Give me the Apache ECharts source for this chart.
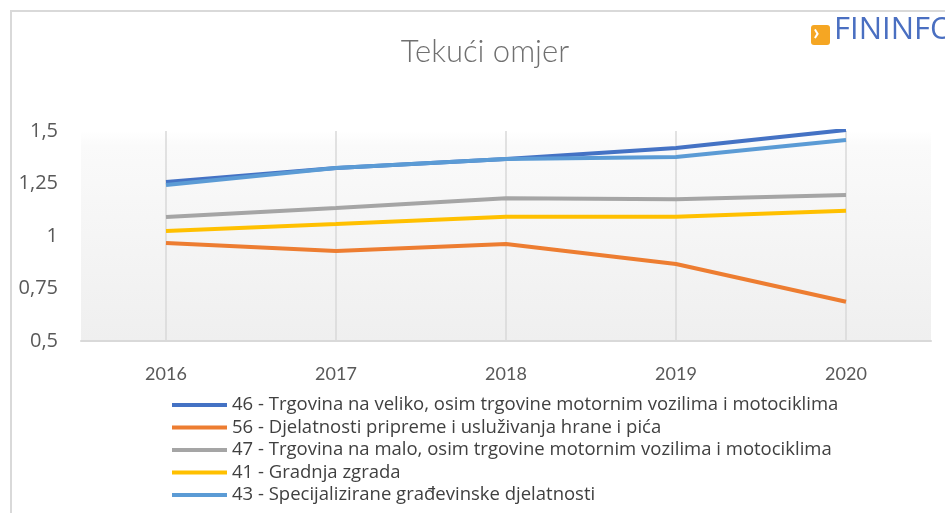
<!DOCTYPE html>
<html>
<head>
<meta charset="utf-8">
<script src="https://cdn.jsdelivr.net/npm/echarts@6/dist/echarts.min.js"></script>
<style>
  html, body { margin: 0; padding: 0; background: #fff; }
  #chart { width: 945px; height: 513px; }
</style>
</head>
<body>
<div id="chart"></div>
<script>
// godine
var years = ['2016', '2017', '2018', '2019', '2020'];
// nazivi djelatnosti (legenda)
var names = [
  '46 - Trgovina na veliko, osim trgovine motornim vozilima i motociklima',
  '56 - Djelatnosti pripreme i usluživanja hrane i pića',
  '47 - Trgovina na malo, osim trgovine motornim vozilima i motociklima',
  '41 - Gradnja zgrada',
  '43 - Specijalizirane građevinske djelatnosti'
];
// tekući omjer po djelatnosti
var d46 = [1.257, 1.324, 1.367, 1.419, 1.505];
var d56 = [0.967, 0.929, 0.962, 0.867, 0.687];
var d47 = [1.090, 1.133, 1.180, 1.175, 1.195];
var d41 = [1.024, 1.057, 1.092, 1.092, 1.120];
var d43 = [1.243, 1.324, 1.367, 1.376, 1.457];
var colors = ['#4472C4', '#ED7D31', '#A5A5A5', '#FFC000', '#5B9BD5'];

var allData = [d46, d56, d47, d41, d43];
var series = [];
allData.forEach(function(vals, i) {
  series.push({
    name: names[i],
    type: 'line',
    data: vals,
    symbol: 'none',
    smooth: false,
    lineStyle: { width: 4, color: colors[i] },
    itemStyle: { color: colors[i] }
  });
});

var chart = echarts.init(document.getElementById('chart'));
chart.setOption({
  animation: false,
  title: {
    text: 'Tekući omjer',
    left: 480,
    textAlign: 'center',
    top: 31,
    textStyle: {
      fontFamily: 'Lato',
      fontWeight: 300,
      fontSize: 31,
      color: '#707070'
    }
  },
  grid: {
    left: 81,
    right: 14,
    top: 131,
    bottom: 172,
    show: true,
    borderWidth: 0,
    backgroundColor: new echarts.graphic.LinearGradient(0, 0, 0, 1, [
      { offset: 0, color: '#ffffff' },
      { offset: 0.07, color: '#fafafa' },
      { offset: 1, color: '#efefef' }
    ])
  },
  xAxis: {
    type: 'category',
    data: years,
    boundaryGap: true,
    axisLine: { lineStyle: { color: '#d9d9d9', width: 2 } },
    axisTick: { show: false },
    splitLine: {
      show: true,
      alignWithLabel: true,
      lineStyle: { color: '#d9d9d9', width: 1.5 }
    },
    axisLabel: {
      fontFamily: 'Lato',
      fontSize: 18,
      color: '#595959',
      margin: 24
    }
  },
  yAxis: {
    type: 'value',
    min: 0.5,
    max: 1.5,
    interval: 0.25,
    axisLine: { show: false },
    axisTick: { show: false },
    splitLine: { show: false },
    axisLabel: {
      fontFamily: 'Open Sans',
      fontSize: 20,
      color: '#595959',
      margin: 23,
      formatter: function(v) { return String(v).replace('.', ','); }
    }
  },
  legend: {
    orient: 'vertical',
    left: 172,
    top: 395,
    padding: 0,
    itemWidth: 55,
    itemHeight: 4,
    itemGap: 2.5,
    icon: 'rect',
    data: names,
    textStyle: {
      fontFamily: 'Open Sans',
      fontSize: 18.5,
      lineHeight: 20,
      color: '#404040'
    }
  },
  graphic: [
    {
      type: 'polyline',
      shape: { points: [[11, 513], [11, 11], [945, 11]] },
      style: { stroke: '#d9d9d9', lineWidth: 2, fill: null }
    },
    {
      type: 'rect',
      left: 811,
      top: 25,
      shape: { width: 19, height: 20, r: 3 },
      style: { fill: '#F5A623' }
    },
    {
      type: 'text',
      left: 813,
      top: 21,
      style: { text: '›', fill: '#ffffff', font: 'bold 23px Lato' }
    },
    {
      type: 'text',
      left: 834,
      top: 15,
      style: { text: 'FININFO', fill: '#4A6FC1', font: '31px "Open Sans"' }
    }
  ],
  series: series
});
</script>
</body>
</html>
